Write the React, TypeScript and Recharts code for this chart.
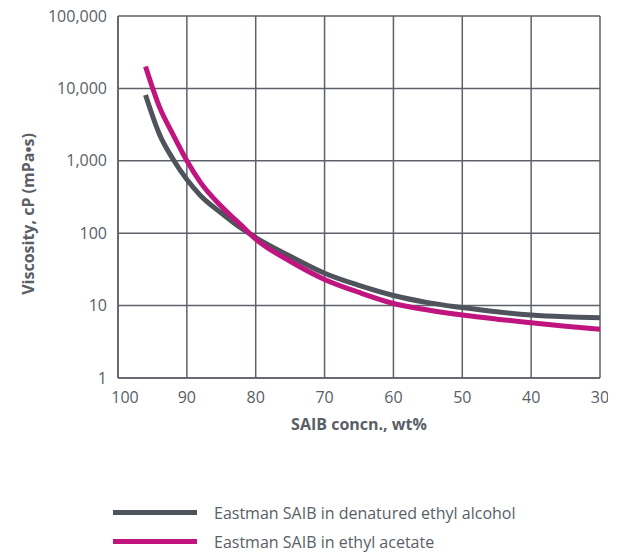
import { LineChart, Line, XAxis, YAxis, CartesianGrid } from 'recharts';

// SAIB concentration (wt%) where viscosity was read
const concn = [96, 94, 92, 90, 88, 85, 82, 80, 75, 70, 65, 60, 55, 50, 45, 40, 35, 30];
// viscosity, cP
const alcohol = [8100, 2350, 1050, 550, 330, 190, 115, 87, 48, 28, 19, 13.8, 11, 9.4, 8.2, 7.4, 7.0, 6.8];
const acetate = [20000, 5600, 2300, 1000, 500, 235, 126, 83, 41, 23, 15.2, 10.7, 8.7, 7.4, 6.5, 5.8, 5.2, 4.7];

const xTicks = [100, 90, 80, 70, 60, 50, 40, 30];
const yTicks = [1, 10, 100, 1000, 10000, 100000];

const series = [
  { key: 'alcohol', name: 'Eastman SAIB in denatured ethyl alcohol', color: '#4f545c' },
  { key: 'acetate', name: 'Eastman SAIB in ethyl acetate', color: '#c0147f' },
];

const data = concn.map((c, i) => ({ concn: c, alcohol: alcohol[i], acetate: acetate[i] }));

const FONT = '"Open Sans", sans-serif';
const TEXT = '#5a5e66';
const GRID = '#5d6169';

// x tick; the "100" is nudged right so it clears the y axis "1"
function XTick(props: any) {
  const { x, y, payload } = props;
  const shift = payload.value === 100 ? 7 : 0;
  return (
    <text x={x + shift} y={y} dy="0.71em" textAnchor="middle" fill={TEXT} fontSize={16} fontFamily={FONT}>
      {payload.value}
    </text>
  );
}

function YTitle(props: any) {
  const { viewBox } = props;
  const x = viewBox.x + 20;
  const y = viewBox.y + viewBox.height / 2 + 17;
  return (
    <text
      x={x}
      y={y}
      transform={`rotate(-90, ${x}, ${y})`}
      textAnchor="middle"
      dominantBaseline="central"
      fill={TEXT}
      fontSize={16}
      fontWeight={700}
      fontFamily={FONT}
    >
      Viscosity, cP (mPa•s)
    </text>
  );
}

export default function App() {
  return (
    <div style={{ fontFamily: FONT, width: 613, marginTop: -8 }}>
      <LineChart width={600} height={438} data={data} margin={{ top: 16, right: 8, bottom: 0, left: 0 }}>
        <CartesianGrid stroke={GRID} strokeWidth={1.5} />
        <XAxis
          dataKey="concn"
          type="number"
          domain={[30, 100]}
          ticks={xTicks}
          reversed
          height={60}
          tick={<XTick />}
          tickLine={false}
          tickSize={4}
          tickMargin={10}
          axisLine={{ stroke: GRID, strokeWidth: 1.5 }}
          label={{
            value: 'SAIB concn., wt%',
            position: 'insideBottom',
            offset: 8,
            style: { fill: TEXT, fontSize: 16, fontWeight: 700, fontFamily: FONT },
          }}
        />
        <YAxis
          scale="log"
          domain={[1, 100000]}
          ticks={yTicks}
          allowDataOverflow
          width={110}
          tick={{ fill: TEXT, fontSize: 16, fontFamily: FONT }}
          tickLine={false}
          tickSize={4}
          tickMargin={7}
          tickFormatter={(v: number) => v.toLocaleString('en-US')}
          axisLine={{ stroke: GRID, strokeWidth: 1.5 }}
          label={{ content: <YTitle /> }}
        />
        {series.map((s) => (
          <Line
            key={s.key}
            dataKey={s.key}
            name={s.name}
            type="monotone"
            stroke={s.color}
            strokeWidth={5}
            dot={false}
            isAnimationActive={false}
          />
        ))}
      </LineChart>

      <div style={{ marginTop: 60, marginLeft: 105 }}>
        {series.map((s) => (
          <div key={s.key} style={{ display: 'flex', alignItems: 'center', height: 29 }}>
            <div style={{ width: 84, height: 5, background: s.color, marginRight: 17 }} />
            <span style={{ color: TEXT, fontSize: 16 }}>{s.name}</span>
          </div>
        ))}
      </div>
    </div>
  );
}
